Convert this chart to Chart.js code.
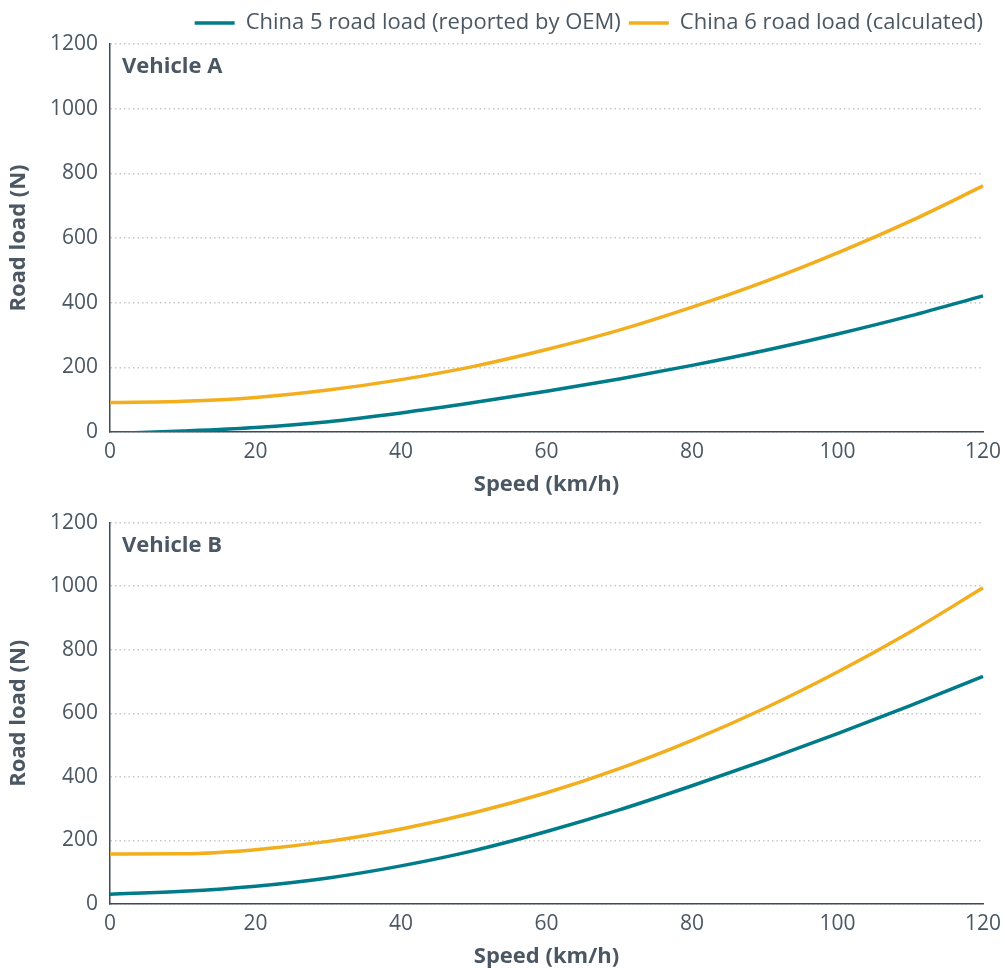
<!DOCTYPE html>
<html>
<head>
<meta charset="utf-8">
<script src="https://cdn.jsdelivr.net/npm/chart.js@4/dist/chart.umd.min.js"></script>
<style>
  html, body { margin: 0; padding: 0; background: #ffffff; overflow: hidden; }
  .panel { position: absolute; left: 0; width: 1005px; }
  #panelA { top: 0; height: 498px; }
  #panelB { top: 498px; height: 470px; }
</style>
</head>
<body>
<div class="panel" id="panelA"><canvas id="chartA"></canvas></div>
<div class="panel" id="panelB"><canvas id="chartB"></canvas></div>
<script>
// Speeds (km/h) at which road load is tabulated
const speeds = [0, 10, 20, 30, 40, 50, 60, 70, 80, 90, 100, 110, 120];

// Vehicle A road load (N)
const vehicleA_china5 = [-5, 3, 14, 32, 59, 91, 126, 164, 206, 252, 303, 359, 421];
const vehicleA_china6 = [91, 95, 107, 130, 162, 203, 255, 315, 386, 465, 554, 652, 761];

// Vehicle B road load (N)
const vehicleB_china5 = [31, 40, 56, 82, 120, 168, 228, 296, 372, 452, 536, 624, 716];
const vehicleB_china6 = [157, 158, 171, 197, 236, 287, 350, 426, 515, 616, 730, 856, 995];

const seriesNames = ['China 5 road load (reported by OEM)', 'China 6 road load (calculated)'];
const panelTitles = ['Vehicle A', 'Vehicle B'];
const yTicks = [0, 200, 400, 600, 800, 1000, 1200];
const xTicks = [0, 20, 40, 60, 80, 100, 120];

const TEAL = '#007b8a';
const GOLD = '#f2ae1d';
const TEXT = '#4b5763';
const AXIS = '#3f4a54';
const FONT = "'Open Sans', 'DejaVu Sans', sans-serif";

function pts(values) {
  return speeds.map((s, i) => ({ x: s, y: values[i] }));
}

// Writes the vehicle name in the top-left corner of the plot area
const panelLabel = {
  id: 'panelLabel',
  afterDraw(chart, args, opts) {
    const { ctx, chartArea } = chart;
    ctx.save();
    ctx.font = `bold 22px ${FONT}`;
    ctx.fillStyle = TEXT;
    ctx.textBaseline = 'middle';
    ctx.textAlign = 'left';
    ctx.fillText(opts.text, chartArea.left + 12, chartArea.top + 23);
    ctx.restore();
  }
};

function makeChart(canvasId, title, china5, china6, opts) {
  return new Chart(document.getElementById(canvasId), {
    type: 'line',
    data: {
      datasets: [
        {
          label: seriesNames[0],
          data: pts(china5),
          borderColor: TEAL,
          backgroundColor: TEAL,
          borderWidth: 3.5,
          pointRadius: 0,
          cubicInterpolationMode: 'monotone',
          clip: { left: 4, right: 4, top: 4, bottom: 0 }
        },
        {
          label: seriesNames[1],
          data: pts(china6),
          borderColor: GOLD,
          backgroundColor: GOLD,
          borderWidth: 3.5,
          pointRadius: 0,
          cubicInterpolationMode: 'monotone',
          clip: { left: 4, right: 4, top: 4, bottom: 0 }
        }
      ]
    },
    options: {
      responsive: true,
      maintainAspectRatio: false,
      animation: false,
      layout: { padding: { top: opts.topPad, right: 14, bottom: 0, left: 0 } },
      plugins: {
        legend: {
          display: opts.legend,
          position: 'top',
          align: 'end',
          labels: {
            color: TEXT,
            font: { family: FONT, size: 22 },
            usePointStyle: true,
            pointStyle: 'line',
            pointStyleWidth: 40,
            padding: 8
          }
        },
        tooltip: { enabled: false },
        panelLabel: { text: title }
      },
      scales: {
        x: {
          type: 'linear',
          min: 0,
          max: 120,
          afterBuildTicks(scale) { scale.ticks = xTicks.map(v => ({ value: v })); },
          grid: { display: false, drawTicks: false },
          border: { display: true, color: AXIS, width: 1.5 },
          ticks: { color: TEXT, font: { family: FONT, size: 21 }, padding: 7, callback: v => String(v) },
          title: {
            display: true,
            text: 'Speed (km/h)',
            color: TEXT,
            font: { family: FONT, size: 22, weight: 'bold' },
            padding: { top: 0, bottom: opts.titleBottom }
          },
          afterFit(scale) {
            scale.height = opts.xHeight;
            scale.paddingRight = 22;
          }
        },
        y: {
          min: 0,
          max: 1200,
          afterBuildTicks(scale) { scale.ticks = yTicks.map(v => ({ value: v })); },
          grid: { color: '#c8c8c8', lineWidth: 1.5, drawTicks: false },
          border: { display: true, color: AXIS, width: 1.5, dash: [1.5, 3] },
          ticks: { color: TEXT, font: { family: FONT, size: 21 }, padding: 12, callback: v => String(v) },
          title: {
            display: true,
            text: 'Road load (N)',
            color: TEXT,
            font: { family: FONT, size: 22, weight: 'bold' },
            padding: { top: 6, bottom: 0 }
          },
          afterFit(scale) { scale.width = 110; }
        }
      }
    },
    plugins: [panelLabel]
  });
}

makeChart('chartA', panelTitles[0], vehicleA_china5, vehicleA_china6,
  { legend: true, topPad: 4, xHeight: 66, titleBottom: 0 });
makeChart('chartB', panelTitles[1], vehicleB_china5, vehicleB_china6,
  { legend: false, topPad: 20, xHeight: 64, titleBottom: -2 });
</script>
</body>
</html>
